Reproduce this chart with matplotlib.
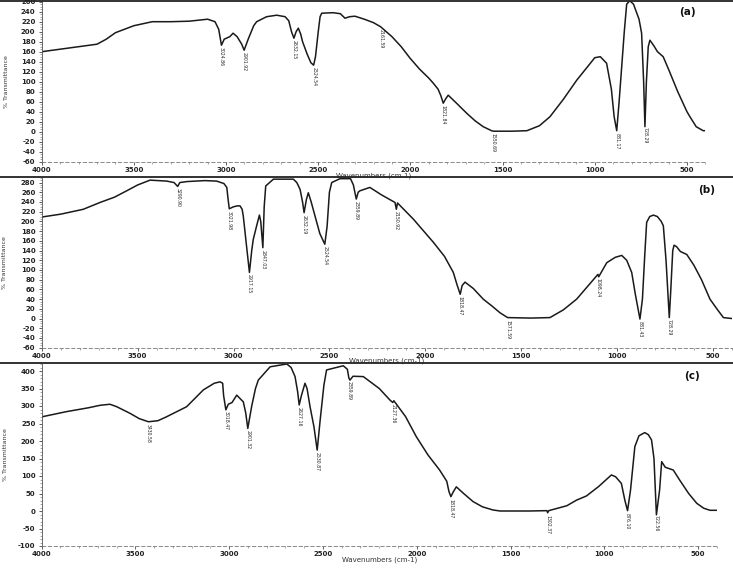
import numpy as np
import matplotlib
matplotlib.use("Agg")
import matplotlib.pyplot as plt
from matplotlib.lines import Line2D
from matplotlib.ticker import MultipleLocator

# ---------------- data ----------------
wn_a = [4000, 3900, 3800, 3700, 3650, 3600, 3500, 3400, 3300, 3200, 3100, 3060, 3040, 3025, 3010, 2980,
        2962, 2940, 2915, 2902, 2880, 2850, 2834, 2780, 2725, 2680, 2660, 2645, 2632, 2620, 2608, 2595,
        2585, 2560, 2540, 2525, 2515, 2500, 2490, 2481, 2420, 2380, 2355, 2330, 2301, 2250, 2200, 2162,
        2100, 2050, 2002, 1950, 1900, 1876, 1850, 1835, 1822, 1810, 1795, 1750, 1695, 1650, 1605, 1560,
        1550, 1450, 1368, 1300, 1243, 1170, 1098, 1050, 1000, 970, 936, 910, 895, 881, 868, 854, 840,
        827, 810, 790, 760, 746, 735, 728, 720, 710, 701, 680, 660, 629, 600, 550, 500, 484, 450, 412, 400]
t_a = [160, 165, 170, 175, 185, 198, 212, 220, 220, 221, 225, 220, 205, 173, 185, 190,
       197, 190, 175, 163, 185, 212, 220, 230, 233, 230, 222, 200, 187, 200, 207, 195,
       180, 155, 138, 133, 150, 200, 230, 237, 238, 236, 227, 230, 231, 225, 218, 210,
       190, 170, 147, 125, 107, 97, 85, 72, 57, 65, 73, 57, 37, 22, 10, 2,
       1, 1, 2, 12, 30, 65, 103, 125, 148, 150, 137, 85, 30, 2, 60, 130, 200,
       255, 262, 255, 225, 197, 100, 10, 100, 170, 183, 172, 160, 150, 125, 80, 40, 30, 10, 2, 2]

wn_b = [4000, 3900, 3783, 3696, 3620, 3557, 3500, 3435, 3348, 3310, 3291, 3280, 3244, 3150, 3088, 3050,
        3035, 3028, 3022, 3001, 2980, 2966, 2955, 2949, 2935, 2917, 2905, 2897, 2880, 2865, 2858, 2847,
        2840, 2832, 2792, 2688, 2670, 2653, 2640, 2632, 2620, 2610, 2595, 2575, 2550, 2524, 2512, 2500,
        2488, 2445, 2390, 2375, 2360, 2350, 2341, 2289, 2230, 2158, 2151, 2145, 2063, 1958, 1900, 1854,
        1835, 1818, 1808, 1793, 1750, 1698, 1650, 1611, 1571, 1450, 1350, 1280, 1211, 1150, 1100, 1096,
        1054, 1010, 976, 950, 924, 905, 881, 868, 856, 846, 830, 811, 790, 770, 759, 745, 728, 720, 710,
        703, 690, 670, 637, 600, 560, 516, 480, 446, 400]
t_b = [209, 215, 225, 239, 250, 263, 275, 285, 283, 280, 272, 280, 282, 284, 283, 278,
       270, 245, 226, 230, 232, 232, 225, 211, 160, 95, 140, 163, 190, 213, 200, 146,
       230, 273, 287, 287, 280, 266, 240, 218, 245, 259, 240, 211, 175, 153, 190, 260,
       280, 288, 288, 275, 246, 260, 263, 270, 255, 239, 225, 238, 205, 157, 128, 95,
       70, 50, 68, 75, 62, 40, 25, 12, 2, 1, 2, 18, 40, 68, 91, 86,
       115, 126, 130, 120, 95, 50, -1, 40, 130, 198, 210, 213, 210, 200, 191, 120, 2, 60, 140,
       151, 148, 138, 132, 110, 80, 40, 20, 2, 0]

wn_c = [4000, 3867, 3750, 3689, 3636, 3600, 3529, 3480, 3431, 3380, 3335, 3227, 3138, 3080, 3049, 3035,
        3030, 3018, 3005, 2985, 2960, 2940, 2925, 2912, 2901, 2880, 2860, 2845, 2782, 2693, 2670, 2649,
        2635, 2627, 2615, 2596, 2585, 2569, 2548, 2531, 2515, 2495, 2481, 2392, 2370, 2362, 2356, 2340,
        2285, 2200, 2143, 2128, 2122, 2060, 2002, 1940, 1878, 1840, 1828, 1818, 1805, 1789, 1750, 1700,
        1650, 1594, 1556, 1400, 1306, 1302, 1296, 1200, 1148, 1095, 1030, 962, 940, 909, 890, 876, 860,
        837, 815, 784, 765, 748, 735, 722, 705, 694, 675, 632, 600, 550, 507, 470, 436, 400]
t_c = [269, 284, 295, 302, 305, 298, 279, 264, 255, 258, 269, 298, 346, 365, 369, 365,
       330, 289, 305, 310, 331, 320, 312, 280, 236, 300, 350, 374, 412, 420, 410, 384,
       340, 303, 330, 365, 350, 298, 240, 174, 260, 360, 403, 415, 405, 380, 374, 385,
       384, 350, 317, 310, 315, 270, 212, 160, 117, 85, 55, 41, 55, 69, 50, 27,
       12, 3, 0, 0, 1, -5, 1, 15, 31, 43, 70, 103, 98, 79, 30, 1, 60,
       184, 215, 224, 218, 203, 150, -11, 60, 141, 125, 117, 90, 50, 22, 8, 2, 2]

peaks_a = ["3024.86", "2901.92", "2632.15", "2524.54", "2161.59", "1821.84", "1550.69", "881.17", "728.29"]
peaks_b = ["3290.90", "3021.98", "2917.15", "2847.03", "2632.19", "2524.54", "2359.89", "2150.92",
           "1818.47", "1571.59", "1098.24", "881.43", "728.29"]
peaks_c = ["3430.58", "3018.47", "2901.32", "2627.16", "2530.87", "2359.89", "2127.36", "1818.47",
           "1302.37", "876.10", "722.56"]

xticks = [4000, 3500, 3000, 2500, 2000, 1500, 1000, 500]
panel_names = ["(a)", "(b)", "(c)"]

# ---------------- layout ----------------
W, H = 733, 570
fig = plt.figure(figsize=(W / 100, H / 100), dpi=100)
fig.patch.set_facecolor("white")

def rect(x0, x1, ytop, ybot):
    return [x0 / W, 1 - ybot / H, (x1 - x0) / W, (ybot - ytop) / H]

panels = [
    dict(wn=wn_a, t=t_a, peaks=peaks_a, rect=rect(41.7, 705.4, 0.7, 161.7), ylim=(-60, 262),
         ymaj=20, ymin=5),
    dict(wn=wn_b, t=t_b, peaks=peaks_b, rect=rect(41.7, 732.2, 177.7, 347.7), ylim=(-60, 290),
         ymaj=20, ymin=5),
    dict(wn=wn_c, t=t_c, peaks=peaks_c, rect=rect(41.7, 716.8, 364.0, 546.0), ylim=(-100, 420),
         ymaj=50, ymin=10),
]

col = "#1a1a1a"
for i, p in enumerate(panels):
    ax = fig.add_axes(p["rect"])
    ax.set_facecolor("none")
    ax.plot(p["wn"], p["t"], color=col, lw=1.1, solid_joinstyle="round")
    ax.set_xlim(4000, 400)
    ax.set_ylim(*p["ylim"])
    for s in ["top", "right"]:
        ax.spines[s].set_visible(False)
    ax.spines["left"].set_color("#555555")
    ax.spines["left"].set_linewidth(0.6)
    ax.spines["bottom"].set_color("#777777")
    ax.spines["bottom"].set_linewidth(0.6)
    ax.spines["bottom"].set_linestyle((0, (4, 3)))
    ax.set_xticks(xticks)
    ax.set_xticklabels([str(v) for v in xticks])
    ax.xaxis.set_minor_locator(MultipleLocator(100))
    ax.yaxis.set_major_locator(MultipleLocator(p["ymaj"]))
    ax.yaxis.set_minor_locator(MultipleLocator(p["ymin"]))
    lo, hi = p["ylim"]
    yt = [v for v in np.arange(lo, hi + 1, p["ymaj"]) if v <= hi]
    ax.set_yticks(yt)
    ax.set_yticklabels([str(int(v)) for v in yt])
    ax.tick_params(axis="both", which="major", labelsize=5, length=2.5, width=0.6, pad=2,
                   colors="#444444", labelcolor="#222222")
    ax.tick_params(axis="x", which="major", pad=1)
    ax.tick_params(axis="both", which="minor", length=1.3, width=0.4, colors="#666666")
    for lab in ax.get_xticklabels() + ax.get_yticklabels():
        lab.set_fontweight("bold")
    ax.set_xlabel("Wavenumbers (cm-1)", fontsize=5, labelpad=0, color="#333333")
    ax.xaxis.set_label_coords(0.5, -0.068 if i == 0 else -0.06)
    ax.set_ylabel("% Transmittance", fontsize=4.5, labelpad=3, color="#333333")
    ax.yaxis.set_label_coords(-0.05, 0.5)
    ax.text(0.985 if i == 0 else 0.975, 0.96, panel_names[i], transform=ax.transAxes,
            ha="right", va="top", fontsize=7.5, fontweight="bold", color="#111111")
    # peak labels
    wn_arr = np.array(p["wn"], dtype=float)[::-1]
    t_arr = np.array(p["t"], dtype=float)[::-1]
    for lab in p["peaks"]:
        w = float(lab)
        tv = np.interp(w, wn_arr, t_arr)
        ax.annotate(lab, xy=(w, tv), xytext=(0, -1.5), textcoords="offset points",
                    rotation=270, ha="center", va="top", fontsize=3.3, color="#222222")

# separator lines across the figure
for ypx in [1.0, 176.5, 362.5]:
    fig.add_artist(Line2D([0, 1], [1 - ypx / H] * 2, transform=fig.transFigure,
                          color="#222222", lw=1.3))

fig.savefig("out.png", dpi=100, facecolor="white")
